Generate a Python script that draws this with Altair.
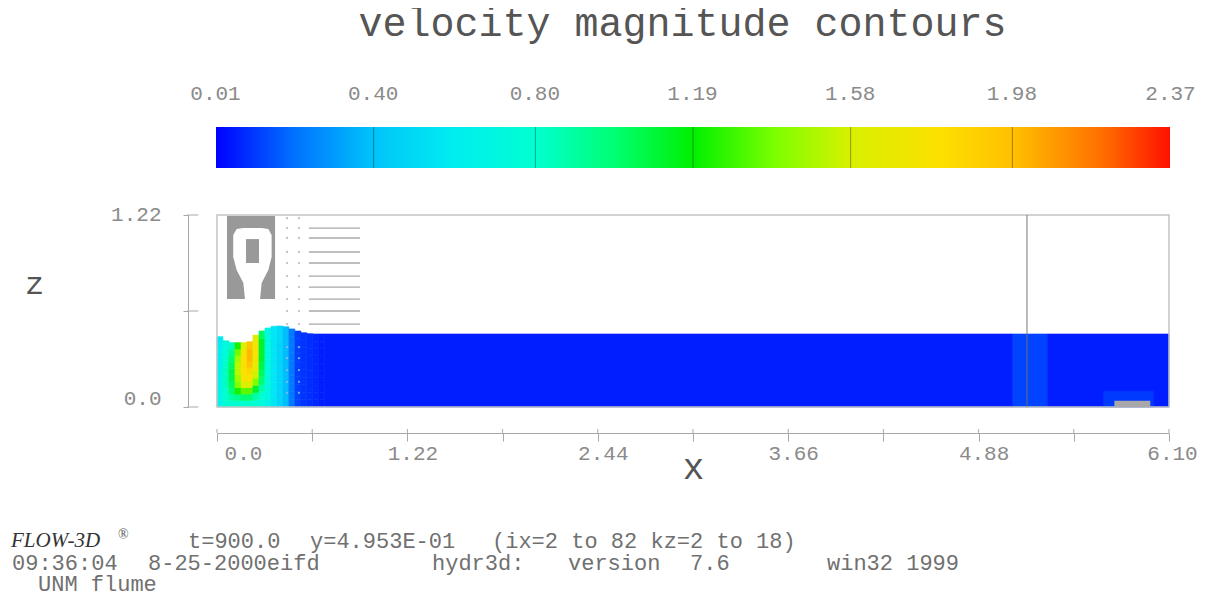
import altair as alt
import pandas as pd

# ---- colour ramp ----
color_levels = [0.01, 0.20, 0.40, 0.60, 0.80, 1.00, 1.19, 1.40, 1.58, 1.80, 1.98, 2.20, 2.37]
color_hex = ["#0000ff", "#0070ff", "#00c4fa", "#00eef0", "#00ffd0", "#00ff70", "#00f000",
             "#80ff00", "#d8f000", "#fce000", "#ffc000", "#ff7000", "#ff1000"]
bar_ticks = [0.40, 0.80, 1.19, 1.58, 1.98]
bar_labels = [0.01, 0.40, 0.80, 1.19, 1.58, 1.98, 2.37]

# ---- flow field near the gate: one list per column, bottom -> top, as fractions of the local depth ----
col_x = [0.000, 0.038, 0.077, 0.115, 0.154, 0.192, 0.230, 0.269, 0.307, 0.346, 0.384, 0.422,
         0.461, 0.499, 0.538, 0.576, 0.614, 0.653, 0.691]
surface = [.447, .421, .409, .409, .409, .415, .457, .483, .502, .513, .515, .510, .496, .483,
           .472, .466, .464, .464]
field = [
    [.66, .68, .68, .66, .64, .62, .60, .60, .60, .58],
    [.78, .80, .80, .85, .85, .85, .82, .80, .75, .72],
    [.80, .90, 1.0, 1.05, 1.1, 1.1, 1.05, 1.0, .95, .85],
    [.80, .95, 1.2, 1.4, 1.45, 1.5, 1.5, 1.45, 1.35, 1.2],
    [.80, 1.0, 1.3, 1.6, 1.75, 1.8, 1.8, 1.8, 1.75, 1.6],
    [.80, 1.0, 1.3, 1.6, 1.78, 1.85, 1.95, 2.0, 2.0, 1.95],
    [.80, .90, 1.15, 1.4, 1.55, 1.65, 1.7, 1.75, 1.75, 1.65],
    [.75, .80, .90, 1.0, 1.05, 1.1, 1.15, 1.15, 1.15, 1.05],
    [.68, .70, .72, .72, .72, .72, .72, .72, .72, .70],
    [.56, .56, .56, .56, .56, .56, .56, .56, .56, .56],
    [.48, .48, .48, .48, .48, .48, .48, .48, .50, .50],
    [.38, .38, .38, .38, .38, .38, .38, .38, .38, .38],
    [.22, .22, .22, .22, .22, .22, .22, .22, .22, .22],
    [.09, .09, .08, .08, .08, .08, .08, .08, .08, .08],
    [.06, .06, .06, .06, .06, .06, .06, .06, .06, .06],
    [.05, .05, .05, .05, .05, .05, .05, .05, .05, .05],
    [.04, .04, .04, .04, .04, .04, .04, .04, .04, .04],
    [.03, .03, .03, .03, .03, .03, .03, .03, .03, .03],
]
# downstream pool: x0, x1, z0, z1, velocity
pool_x0 = [0.691, 5.10, 5.32, 5.68]
pool_x1 = [5.10, 5.32, 6.10, 6.00]
pool_z0 = [0.0, 0.0, 0.0, 0.0]
pool_z1 = [.464, .464, .464, .10]
pool_v = [.03, .09, .03, .07]

# ---- structures ----
gate_x = [.064, .372]
gate_z = [.686, 1.213]
throat_x = [.104, .126, .169, .179, .276, .286, .329, .350]
throat_top = [1.093, 1.131, 1.137, 1.137, 1.137, 1.137, 1.131, 1.093]
throat_bot = [.953, .870, .788, .686, .686, .788, .870, .953]
core_x = [.186, .269]
core_z = [.915, 1.067]
baffle_z = [1.137, 1.074, .985, .915, .832, .762, .686, .610, .527]
baffle_x = [.589, .916]
dot_x = [.449, .525]
water_dot_z = [.38, .31, .235, .16, .09]
sill_x = [5.75, 5.98]
sill_z = [0.0, .04]
probe_x = 5.19

x_ticks = [0, .61, 1.22, 1.83, 2.44, 3.05, 3.66, 4.27, 4.88, 5.49, 6.10]
z_ticks = [0, .61, 1.22]

# ---- scales (pixel ranges place each panel on the page) ----
X = alt.Scale(domain=[0, 6.10], range=[209, 1161], nice=False, zero=False)
Z = alt.Scale(domain=[0, 1.22], range=[399, 207], nice=False, zero=False)
VBAR = alt.Scale(domain=[0.01, 2.37], range=[208, 1162], nice=False, zero=False)
YBAR = alt.Scale(domain=[0, 1], range=[160, 119], nice=False, zero=False)
COLOR = alt.Scale(domain=color_levels, range=color_hex, clamp=True)
GRAY = "#8a8a8a"
LINE = "#a8a8a8"
MONO = "Liberation Mono"
LABEL_EXPR = "round(datum.value / 0.61) % 2 == 0 ? (datum.value == 0 ? '0.0' : format(datum.value, '.2f')) : ''"


def xe(name, **kw):
    kw.setdefault("axis", None)
    return alt.X(name, type="quantitative", scale=X, **kw)


def ze(name, **kw):
    kw.setdefault("axis", None)
    return alt.Y(name, type="quantitative", scale=Z, **kw)


# ---- colour bar ----
stops = [alt.GradientStop(offset=(l - 0.01) / 2.36, color=c) for l, c in zip(color_levels, color_hex)]
bar_df = pd.DataFrame({"a": [0.01], "b": [2.37], "y0": [0], "y1": [1]})
bar = alt.Chart(bar_df).mark_rect(
    fill=alt.Gradient(gradient="linear", stops=stops, x1=0, x2=1, y1=0, y2=0)
).encode(
    x=alt.X("a:Q", scale=VBAR, axis=alt.Axis(
        orient="top", offset=-119, values=bar_labels, format=".2f", domain=False, ticks=False,
        grid=False, title=None, labelFontSize=21, labelFont=MONO, labelColor=GRAY, labelPadding=24,
        labelFlush=False, labelOverlap=False, labelBound=False,
        labelOffset={"condition": {"test": "datum.value > 2.3", "value": 0}, "value": -1})),
    x2="b:Q",
    y=alt.Y("y0:Q", scale=YBAR, axis=None),
    y2="y1:Q",
)
bar_rules = alt.Chart(pd.DataFrame({"v": bar_ticks, "y0": 0, "y1": 1})).mark_rule(
    color="#000000", opacity=0.35, strokeWidth=1
).encode(
    x=alt.X("v:Q", scale=VBAR, axis=None),
    y=alt.Y("y0:Q", scale=YBAR, axis=None),
    y2="y1:Q",
)

# ---- flow cells ----
cells = []
for c, column in enumerate(field):
    nrows = len(column)
    for r, v in enumerate(column):
        cells.append(dict(x0=col_x[c], x1=col_x[c + 1], z0=surface[c] * r / nrows,
                          z1=surface[c] * (r + 1) / nrows, v=v))
for a, b, c, d, v in zip(pool_x0, pool_x1, pool_z0, pool_z1, pool_v):
    cells.append(dict(x0=a, x1=b, z0=c, z1=d, v=v))
cell_df = pd.DataFrame(cells)

flow = alt.Chart(cell_df).mark_rect(strokeWidth=0.6).encode(
    x=xe("x0", axis=alt.Axis(
        orient="bottom", offset=-161, values=x_ticks, grid=False, title="x", titleFont=MONO,
        titleFontSize=36, titleFontWeight="normal", titleColor="#555555", titlePadding=-13,
        domainColor=LINE, tickColor=LINE, tickSize=8, labelFont=MONO, labelFontSize=21,
        labelColor=GRAY, labelPadding=1, labelFlush=False, labelOverlap=False, labelBound=False,
        labelOffset={"condition": [{"test": "datum.value == 0", "value": 26},
                                   {"test": "datum.value > 6", "value": 3}], "value": 5},
        labelExpr=LABEL_EXPR)),
    x2="x1",
    y=ze("z0", axis=alt.Axis(
        orient="left", offset=-180, values=z_ticks, grid=False, title="z", titleFont=MONO,
        titleFontSize=32, titleFontWeight="normal", titleColor="#555555", titleAngle=0,
        titleX=-154, titleY=275, titleAlign="center", titleBaseline="middle",
        domainColor=LINE, tickColor=LINE, tickSize=5, labelFont=MONO, labelFontSize=21,
        labelColor=GRAY, labelPadding=22, labelOverlap=False, labelFlush=False, labelBound=False,
        labelOffset={"condition": {"test": "datum.value == 0", "value": -9}, "value": -1},
        labelExpr=LABEL_EXPR)),
    y2="z1",
    color=alt.Color("v:Q", scale=COLOR, legend=None),
    stroke=alt.Stroke("v:Q", scale=COLOR, legend=None),
)

# ---- tick marks on the other side of the axes ----
xtick_up = alt.Chart(pd.DataFrame({"x": x_ticks, "a": -0.165, "b": -0.14})).mark_rule(color=LINE).encode(
    x=xe("x"), y=ze("a"), y2="b")
ztick_right = alt.Chart(pd.DataFrame({"z": z_ticks, "a": -0.19, "b": -0.12})).mark_rule(color=LINE).encode(
    y=ze("z"), x=xe("a"), x2="b")

# ---- frame ----
frame = alt.Chart(pd.DataFrame({"a": [0.0], "b": [6.10], "c": [0.0], "d": [1.22]})).mark_rect(
    fill=None, stroke="#c4c4c4", strokeWidth=1.5).encode(x=xe("a"), x2="b", y=ze("c"), y2="d")
probe = alt.Chart(pd.DataFrame({"x": [probe_x], "a": [0.0], "b": [1.22]})).mark_rule(
    color="#707070", opacity=0.8, strokeWidth=1.2).encode(x=xe("x"), y=ze("a"), y2="b")

# ---- gate structure ----
gate = alt.Chart(pd.DataFrame({"a": [gate_x[0]], "b": [gate_x[1]], "c": [gate_z[0]], "d": [gate_z[1]]})).mark_rect(
    color="#999999").encode(x=xe("a"), x2="b", y=ze("c"), y2="d")
throat = alt.Chart(pd.DataFrame({"x": throat_x, "t": throat_top, "b": throat_bot})).mark_area(
    color="#ffffff", opacity=1).encode(x=xe("x"), y=ze("t"), y2="b")
core = alt.Chart(pd.DataFrame({"a": [core_x[0]], "b": [core_x[1]], "c": [core_z[0]], "d": [core_z[1]]})).mark_rect(
    color="#999999").encode(x=xe("a"), x2="b", y=ze("c"), y2="d")
baffles = alt.Chart(pd.DataFrame({"z": baffle_z, "a": baffle_x[0], "b": baffle_x[1]})).mark_rule(
    color="#a8a8a8", strokeWidth=1.3).encode(x=xe("a"), x2="b", y=ze("z"))
air_dots = alt.Chart(pd.DataFrame([{"x": x, "z": z} for x in dot_x for z in baffle_z + [1.2]])).mark_point(
    filled=True, color="#c8b8c0", size=5, opacity=1).encode(x=xe("x"), y=ze("z"))
water_dots = alt.Chart(pd.DataFrame([{"x": x, "z": z} for x in dot_x for z in water_dot_z])).mark_point(
    filled=True, color="#90b8ff", size=5, opacity=0.9).encode(x=xe("x"), y=ze("z"))
sill = alt.Chart(pd.DataFrame({"a": [sill_x[0]], "b": [sill_x[1]], "c": [sill_z[0]], "d": [sill_z[1]]})).mark_rect(
    color="#a8a8a8").encode(x=xe("a"), x2="b", y=ze("c"), y2="d")

# ---- footer ----
foot_text = ["t=900.0", "y=4.953E-01", "(ix=2 to 82 kz=2 to 18)", "09:36:04", "8-25-2000eifd",
             "hydr3d:", "version", "7.6", "win32 1999", "UNM flume"]
foot_x = [180, 302, 484, 4, 140, 424, 560, 682, 819, 30]
foot_y = [540, 540, 540, 562, 562, 562, 562, 562, 562, 583]
foot = alt.Chart(pd.DataFrame({"t": foot_text, "px": foot_x, "py": foot_y})).mark_text(
    font=MONO, fontSize=22, color="#707070", align="left", baseline="alphabetic").encode(
    text="t:N",
    x=alt.X("px:Q", scale=alt.Scale(domain=[0, 1189], range=[0, 1189]), axis=None),
    y=alt.Y("py:Q", scale=alt.Scale(domain=[0, 586], range=[0, 586]), axis=None),
)
logo = alt.Chart(pd.DataFrame({"t": ["FLOW-3D"]})).mark_text(
    font="Liberation Serif", fontSize=21, fontStyle="italic", color="#333333", align="left",
    baseline="alphabetic").encode(text="t:N", x=alt.value(3), y=alt.value(539))
reg = alt.Chart(pd.DataFrame({"t": ["®"]})).mark_text(
    font="Liberation Serif", fontSize=14, color="#555555", align="left", baseline="alphabetic"
).encode(text="t:N", x=alt.value(110), y=alt.value(531))

chart = alt.layer(
    bar, bar_rules, flow, water_dots, frame, probe, xtick_up, ztick_right, gate, throat, core,
    baffles, air_dots, sill, foot, logo, reg,
).resolve_scale(x="independent", y="independent").properties(
    width=1189, height=586, padding=0,
    autosize=alt.AutoSizeParams(type="none"),
    title=alt.TitleParams("velocity magnitude contours", font=MONO, fontSize=40, fontWeight="normal",
                          color="#555555", anchor="middle", dx=80, offset=-36),
).configure_view(stroke=None)

chart.save("out.html", embed_options={"renderer": "svg", "actions": False})
